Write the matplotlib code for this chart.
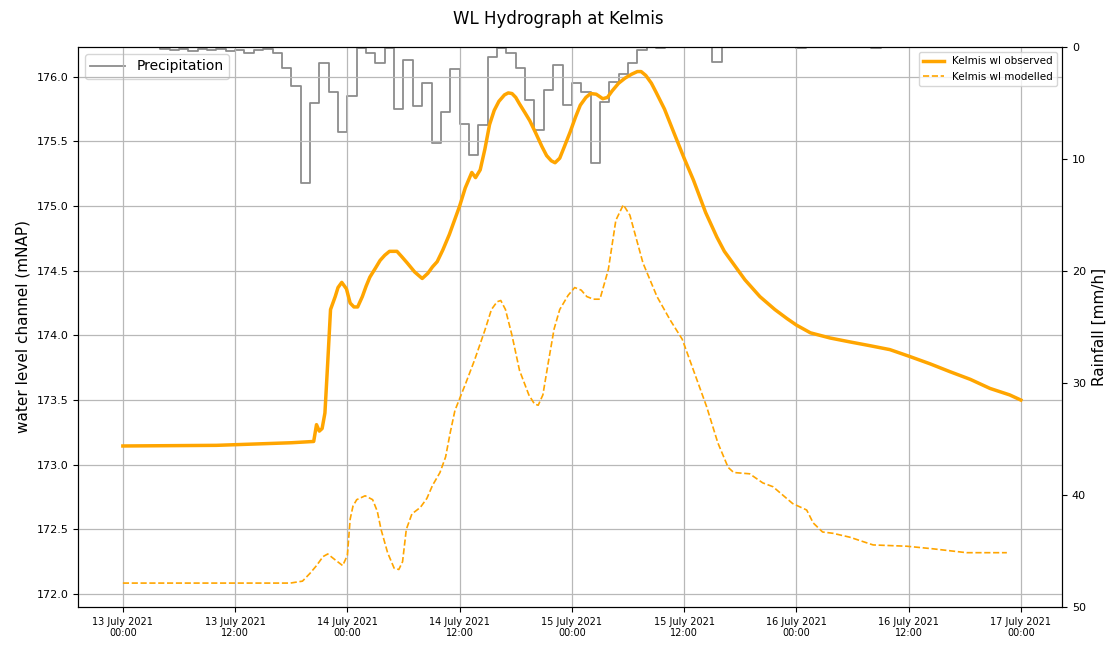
import matplotlib
matplotlib.use("Agg")
import matplotlib.pyplot as plt
import matplotlib.dates as mdates
import matplotlib.ticker as mticker
import pandas as pd

# ---------------- data ----------------
start = pd.Timestamp("2021-07-13 00:00")

# hourly precipitation (mm/h), hour 0 .. 96
precip_hours = list(range(97))
precip_values = [
    0, 0, 0, 0, 0.2, 0.3, 0.2, 0.4, 0.2, 0.3, 0.2, 0.4, 0.3, 0.5, 0.3, 0.2,
    0.5, 1.9, 3.5, 12.1, 5.0, 1.4, 4.0, 7.6, 4.4, 0.1, 0.5, 1.4, 0.1, 5.5,
    1.2, 5.3, 3.2, 8.6, 5.8, 2.0, 6.9, 9.6, 7.0, 0.9, 0.1, 0.5, 1.9, 4.7,
    7.4, 3.8, 1.6, 5.2, 3.2, 4.0, 10.4, 4.9, 3.1, 2.4, 1.4, 0.3, 0, 0.1,
    0, 0, 0, 0, 0, 1.3, 0, 0, 0, 0, 0, 0, 0, 0, 0.1, 0, 0, 0, 0, 0,
    0, 0, 0.1, 0, 0, 0, 0, 0, 0, 0, 0, 0, 0, 0, 0, 0, 0, 0, 0,
]

# observed water level (mNAP)
obs_hours = [0, 10, 18, 20.4, 20.7, 21.0, 21.3, 21.6, 21.9, 22.2, 22.7, 23.0,
             23.4, 23.9, 24.3, 24.7, 25.1, 25.6, 26.0, 26.4, 27.0, 27.5, 28.0,
             28.5, 29.3, 29.8, 30.4, 31.2, 32.0, 32.6, 33.1, 33.6, 34.2, 34.9,
             35.5, 36.0, 36.6, 37.3, 37.7, 38.2, 38.7, 39.2, 39.7, 40.2, 40.8,
             41.2, 41.6, 42.0, 42.4, 43.0, 43.5, 44.1, 44.8, 45.3, 45.8, 46.2,
             46.7, 47.2, 47.8, 48.4, 48.9, 49.5, 50.0, 50.6, 51.3, 51.8, 52.3,
             53.0, 53.7, 54.4, 55.0, 55.4, 55.9, 56.5, 57.0, 57.9, 59.0, 60.0,
             61.0, 62.3, 63.5, 64.3, 65.2, 66.5, 68.1, 69.7, 71.0, 72.0, 73.5,
             75.6, 77.7, 79.9, 82.0, 84.0, 86.3, 88.4, 90.6, 92.7, 94.8, 96.0]
obs_values = [173.145, 173.15, 173.17, 173.18, 173.31, 173.26, 173.28, 173.40,
              173.79, 174.20, 174.30, 174.37, 174.41, 174.36, 174.25, 174.22,
              174.22, 174.30, 174.38, 174.45, 174.52, 174.58, 174.62, 174.65,
              174.65, 174.61, 174.56, 174.49, 174.44, 174.48, 174.53, 174.57,
              174.66, 174.78, 174.90, 175.00, 175.14, 175.26, 175.22, 175.28,
              175.44, 175.63, 175.74, 175.81, 175.86, 175.875, 175.87, 175.84,
              175.79, 175.72, 175.66, 175.57, 175.46, 175.39, 175.35, 175.335,
              175.37, 175.46, 175.57, 175.69, 175.78, 175.84, 175.87, 175.865,
              175.83, 175.84, 175.89, 175.95, 175.99, 176.02, 176.04, 176.04,
              176.01, 175.95, 175.88, 175.75, 175.55, 175.37, 175.20, 174.95,
              174.76, 174.65, 174.56, 174.43, 174.30, 174.20, 174.13, 174.08,
              174.02, 173.98, 173.95, 173.92, 173.89, 173.84, 173.78, 173.72,
              173.66, 173.59, 173.54, 173.50]

# modelled water level (mNAP)
mod_hours = [0, 10, 17.9, 19.2, 20.0, 20.7, 21.4, 21.9, 22.6, 23.5, 24.0,
             24.3, 24.6, 25.0, 25.9, 26.7, 27.2, 27.6, 28.3, 29.0, 29.5, 29.9,
             30.3, 30.9, 31.8, 32.5, 33.1, 33.9, 34.5, 35.0, 35.5, 36.6, 37.6,
             38.7, 39.4, 40.0, 40.4, 40.9, 41.6, 42.4, 43.4, 44.0, 44.4, 44.9,
             45.5, 46.1, 46.7, 47.6, 48.3, 49.0, 49.6, 50.3, 51.0, 51.9, 52.7,
             53.5, 54.2, 55.6, 57.1, 58.5, 59.8, 61.0, 62.4, 63.6, 64.7, 65.3,
             67.0, 68.4, 69.5, 71.6, 73.1, 73.8, 74.8, 75.9, 77.7, 80.2, 83.8,
             86.6, 90.2, 94.5]
mod_values = [172.085, 172.085, 172.085, 172.10, 172.16, 172.22, 172.29,
              172.31, 172.27, 172.22, 172.30, 172.58, 172.68, 172.73, 172.76,
              172.73, 172.64, 172.50, 172.32, 172.20, 172.19, 172.25, 172.50,
              172.62, 172.67, 172.74, 172.84, 172.94, 173.06, 173.25, 173.42,
              173.62, 173.81, 174.04, 174.20, 174.26, 174.27, 174.20, 174.00,
              173.73, 173.54, 173.47, 173.46, 173.54, 173.80, 174.05, 174.20,
              174.31, 174.37, 174.35, 174.30, 174.28, 174.28, 174.51, 174.89,
              175.01, 174.93, 174.56, 174.30, 174.12, 173.97, 173.73, 173.45,
              173.17, 172.98, 172.94, 172.93, 172.86, 172.83, 172.70, 172.65,
              172.55, 172.48, 172.47, 172.44, 172.38, 172.37, 172.35, 172.32,
              172.32]

left_ticks = [172.0, 172.5, 173.0, 173.5, 174.0, 174.5, 175.0, 175.5, 176.0]
right_ticks = [0, 10, 20, 30, 40, 50]

# ---------------- plot ----------------
def to_time(hours):
    return [start + pd.Timedelta(hours=h) for h in hours]

fig = plt.figure(figsize=(11.17, 6.49), dpi=100)
ax1 = fig.add_axes([0.0698, 0.0647, 0.881, 0.8629])
ax2 = ax1.twinx()

ax2.plot(to_time(precip_hours), precip_values, drawstyle="steps-post",
         color="#8c8c8c", lw=1.3, label="Precipitation")
ax2.set_ylim(50, 0)
ax2.set_yticks(right_ticks)
ax2.set_ylabel("Rainfall [mm/h]", fontsize=11)
ax2.tick_params(labelsize=8)
ax2.legend(loc="upper left", fontsize=10, handlelength=2.5)

ax1.set_zorder(ax2.get_zorder() + 1)
ax1.patch.set_visible(False)
ax1.plot(to_time(obs_hours), obs_values, color="#FFA500", lw=2.5,
         label="Kelmis wl observed", solid_joinstyle="round")
ax1.plot(to_time(mod_hours), mod_values, color="#FFA500", lw=1.2,
         ls="--", label="Kelmis wl modelled")
ax1.set_ylim(171.9, 176.23)
ax1.set_yticks(left_ticks)
ax1.yaxis.set_major_formatter(mticker.FormatStrFormatter("%.1f"))
ax1.set_ylabel("water level channel (mNAP)", fontsize=11)
ax1.tick_params(labelsize=8)
ax1.tick_params(axis="x", labelsize=7)
ax1.set_xlim(start - pd.Timedelta(hours=4.8), start + pd.Timedelta(hours=100.4))
ax1.xaxis.set_major_locator(mdates.HourLocator(byhour=[0, 12]))
ax1.xaxis.set_major_formatter(mdates.DateFormatter("%d %B %Y\n%H:%M"))
for lab in ax1.get_xticklabels():
    lab.set_ha("center")
ax1.grid(True, color="#b8b8b8", lw=0.9)
ax1.legend(loc="upper right", fontsize=7.5)

fig.suptitle("WL Hydrograph at Kelmis", y=0.985, fontsize=12)

fig.savefig("out.png", dpi=100)
